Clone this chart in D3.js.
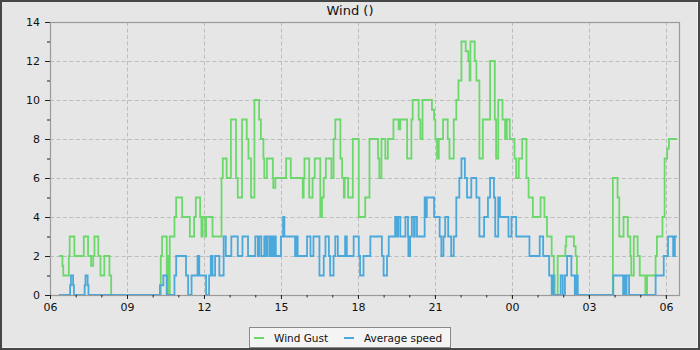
<!DOCTYPE html>
<html><head><meta charset="utf-8">
<script src="https://cdn.jsdelivr.net/npm/d3@7/dist/d3.min.js"></script>
<style>
body{margin:0;background:#e6e6e6}
svg{display:block;font-family:"DejaVu Sans",sans-serif}
</style>
</head><body><svg id="c" width="700" height="350"></svg>
<script>
const chartTitle = "Wind ()";
const seriesNames = ["Wind Gust", "Average speed"];
const seriesColors = ["#6cd86c", "#4aa8db"];
const yTickValues = [0, 2, 4, 6, 8, 10, 12, 14];
const xTickLabels = ["06", "09", "12", "15", "18", "21", "00", "03", "06"];

const gustTimes = [
 "06:21","06:29","06:31","06:44","06:46","06:57","07:19","07:29","07:36","07:41","07:44","07:53","07:58","08:07","08:19","08:23",
 "10:19","10:22","10:33","10:35","10:37","10:40","10:51","10:55","11:09","11:27","11:37","11:41","11:51","11:54","11:57",
 "12:03","12:05","12:20","12:41","12:44","12:53","13:03","13:15","13:19","13:29","13:40","13:44","13:50","13:58",
 "14:09","14:13","14:19","14:21","14:27","14:41","14:42","14:47","15:12","15:23","15:51","15:53","15:55",
 "16:06","16:14","16:19","16:32","16:36","16:40","16:45","16:58","17:03","17:07","17:19","17:23","17:27","17:29","17:37","17:48",
 "18:02","18:17","18:27","18:47","18:50","18:55","19:04","19:10","19:23","19:35","19:39","19:55",
 "20:05","20:08","20:22","20:26","20:31","20:53","20:58","21:01","21:05","21:09","21:19","21:30","21:34","21:44","21:50","21:55",
 "22:02","22:12","22:18","22:21","22:23","22:33","22:37","22:44","22:52","23:09","23:20","23:23","23:28","23:38","23:44","23:48","23:55",
 "00:06","00:10","00:16","00:24","00:34","00:39","00:49","01:07","01:16","01:22","01:33","01:38","01:40","01:47",
 "02:05","02:07","02:25","02:29","02:32","03:56","04:07","04:11","04:21","04:31","04:37","04:39","04:45","04:54","04:59",
 "05:12","05:16","05:36","05:39","05:52","05:57","06:03","06:07","06:26"
];
const gustValues = [
 2,1.5,1,2,3,2,3,2,1.5,2,3,2,1,2,1,0,
 2,3,0,2,0,3,4,5,4,3,4,5,4,3,4,
 3,4,3,6,7,6,9,6,5,9,8,7,5,10,
 9,8,7,6,7,6,5.5,6,7,6,5,6,7,
 5,6,7,4,5,6,7,6,8,9,7,6,5,6,5,8,
 4,5,8,7,6,8,7,8,9,8.5,9,7,
 9,10,9,8,10,9.5,9,8,7,8,9,8,7,9,10,11,
 13,12.5,12,11,13,12,11,7,9,12,9,7,10,9,8,9,8,
 7,6,7,8,6,5,4,5,4,3,2,1,0,2,
 2.5,3,2.5,2,0,6,5,3,4,3,2,1,3,2,1,
 0,1,2,3,4,7,7.5,8,8
];

const avgTimes = [
 "06:21","06:47","06:49","06:54","06:56","07:21","07:23","07:28","07:30",
 "10:17","10:25","10:33","10:51","10:55","11:18","11:23","11:31","11:45","11:49",
 "12:05","12:12","12:16","12:20","12:26","12:36","12:46","12:51","13:04","13:19","13:30","13:43",
 "14:00","14:06","14:09","14:14","14:21","14:25","14:28","14:33","14:37","14:41","14:45","14:48",
 "15:00","15:05","15:08","15:33","15:36","15:39","16:01","16:09","16:16","16:30","16:40","16:44","16:52","16:55",
 "17:03","17:07","17:13","17:30","17:34","17:50","18:02","18:05","18:13","18:29","18:56",
 "19:00","19:08","19:12","19:27","19:31","19:34","19:39","19:51","19:57","19:58",
 "20:02","20:06","20:11","20:13","20:18","20:36","20:39","20:41","20:58",
 "21:11","21:15","21:20","21:24","21:31","21:38","21:44","21:50","21:57",
 "22:02","22:10","22:15","22:25","22:37","22:44","22:55","23:04","23:09","23:18","23:21","23:28","23:32","23:52","23:59",
 "00:10","00:41","01:05","01:13","01:27","01:33","01:36","01:38","01:54","01:59",
 "02:04","02:09","02:19","02:27","02:30","02:34","03:57","04:20","04:23","04:26","04:28","04:34",
 "05:36","05:55","06:05","06:17","06:21","06:26"
];
const avgValues = [
 0,0.5,1,0.5,0,0.5,1,0.5,0,
 0.5,1,0,1,2,1,0,1,2,1,
 0,1,2,1,2,1,3,2,3,2,3,2,
 3,2,3,2,3,2,3,2,3,2,3,2,
 3,4,3,2,3,2,3,2,3,1,2,3,2,1,
 2,3,2,3,2,3,2,1,2,3,2,
 1,2,3,4,3,4,3,4,3,2,
 3,4,3,4,3,5,4,5,4,
 3,2,3,4,3,2,3,5,6,
 7,6,5,6,5,3,4,5,6,5,3,5,4,3,4,
 3,2,3,2,1,0,1,0,1,0,
 1,2,1,0,1,0,1,0,1,0,1,0,
 1,2,3,2,3,3
];

function toDates(times) {
  let day = 0, prev = -1;
  return times.map(t => {
    const [h, m] = t.split(":").map(Number);
    const mins = h * 60 + m;
    if (mins < prev) day++;
    prev = mins;
    return new Date(2024, 0, 1 + day, h, m);
  });
}

const W = 700, H = 350;
const L = 50, R = 680, T = 22, B = 295;
const svg = d3.select("#c");

// frame
svg.append("rect").attr("width", W).attr("height", H).attr("fill", "#474747");
svg.append("rect").attr("x", 2).attr("y", 2).attr("width", W - 4).attr("height", H - 4).attr("fill", "#f2f2f2");
svg.append("rect").attr("x", 2).attr("y", 2).attr("width", W - 5).attr("height", H - 5).attr("fill", "#e6e6e6");

const x = d3.scaleTime()
  .domain([new Date(2024, 0, 1, 6, 0), new Date(2024, 0, 2, 6, 33)])
  .range([L, R]);
const y = d3.scaleLinear().domain([0, 14]).range([B, T]);

// grid
const majorX = d3.timeHour.every(3).range(x.domain()[0], x.domain()[1]);
svg.append("g").selectAll("line").data(majorX.filter(d => x(d) > L + 1))
  .join("line")
  .attr("x1", d => Math.round(x(d)) + 0.5).attr("x2", d => Math.round(x(d)) + 0.5)
  .attr("y1", T).attr("y2", B)
  .attr("stroke", "#bdbdbd").attr("stroke-dasharray", "4,2.5");
svg.append("g").selectAll("line").data(yTickValues.filter(v => v > 0 && v < 14))
  .join("line")
  .attr("x1", L).attr("x2", R)
  .attr("y1", d => Math.round(y(d)) + 0.5).attr("y2", d => Math.round(y(d)) + 0.5)
  .attr("stroke", "#bdbdbd").attr("stroke-dasharray", "4,2.5");

// series
svg.append("defs").append("clipPath").attr("id", "clip")
  .append("rect").attr("x", L).attr("y", T - 2).attr("width", R - L).attr("height", B - T + 3);

const line = d3.line().curve(d3.curveStepAfter).x(d => x(d[0])).y(d => y(d[1]));
const gustData = d3.zip(toDates(gustTimes), gustValues);
const avgData = d3.zip(toDates(avgTimes), avgValues);

const plot = svg.append("g").attr("clip-path", "url(#clip)");
plot.append("path").datum(gustData).attr("d", line)
  .attr("fill", "none").attr("stroke", seriesColors[0]).attr("stroke-width", 1.8);
plot.append("path").datum(avgData).attr("d", line)
  .attr("fill", "none").attr("stroke", seriesColors[1]).attr("stroke-width", 1.8);

// border
svg.append("rect").attr("x", L + 0.5).attr("y", T + 0.5).attr("width", R - L - 1).attr("height", B - T)
  .attr("fill", "none").attr("stroke", "#9a9a9a").attr("stroke-width", 1.2);

// axes
const yAxis = svg.append("g").attr("transform", `translate(${L},0)`)
  .call(d3.axisLeft(y).tickValues(yTickValues).tickSize(5).tickPadding(5));
const yMinor = svg.append("g").attr("transform", `translate(${L},0)`)
  .call(d3.axisLeft(y).tickValues([1, 3, 5, 7, 9, 11, 13]).tickSize(3).tickFormat(""));
const xAxis = svg.append("g").attr("transform", `translate(0,${B})`)
  .call(d3.axisBottom(x).tickValues(majorX).tickSize(4).tickPadding(4)
    .tickFormat((d, i) => xTickLabels[i]));
const xMinor = svg.append("g").attr("transform", `translate(0,${B})`)
  .call(d3.axisBottom(x).tickValues(d3.timeHour.every(1).range(x.domain()[0], x.domain()[1])).tickSize(2.5).tickFormat(""));
[yAxis, yMinor, xAxis, xMinor].forEach(g => {
  g.select(".domain").remove();
  g.selectAll(".tick line").attr("stroke", "#222");
  g.selectAll("text").attr("fill", "#111").style("font-size", "11px").style("font-family", "DejaVu Sans");
});

// title
svg.append("text").attr("x", 350).attr("y", 15).attr("text-anchor", "middle")
  .style("font-size", "13px").attr("fill", "#111").text(chartTitle);

// legend
const lg = svg.append("g");
lg.append("rect").attr("x", 249.5).attr("y", 327.5).attr("width", 201).attr("height", 20)
  .attr("fill", "#f4f4f4").attr("stroke", "#8a8a8a");
const itemX = [254, 344];
seriesNames.forEach((n, i) => {
  lg.append("line").attr("x1", itemX[i]).attr("x2", itemX[i] + 10).attr("y1", 338).attr("y2", 338)
    .attr("stroke", seriesColors[i]).attr("stroke-width", 2);
  lg.append("text").attr("x", itemX[i] + 20).attr("y", 341.5)
    .style("font-size", "10.5px").attr("fill", "#111").text(n);
});
</script>
</body></html>
